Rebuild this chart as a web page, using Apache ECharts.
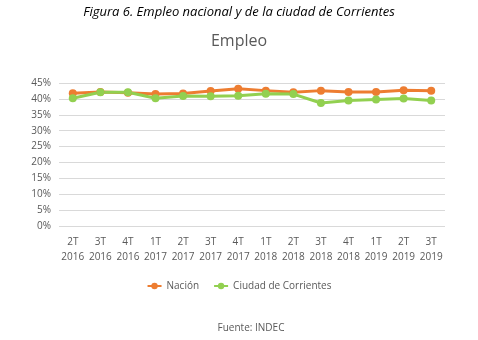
<!DOCTYPE html>
<html><head><meta charset="utf-8">
<script src="https://cdn.jsdelivr.net/npm/echarts@6/dist/echarts.min.js"></script>
<style>html,body{margin:0;padding:0;background:#fff}#c{width:478px;height:340px}</style>
</head><body><div id="c"></div>
<script>
const categories = ['2T\n2016','3T\n2016','4T\n2016','1T\n2017','2T\n2017','3T\n2017','4T\n2017','1T\n2018','2T\n2018','3T\n2018','4T\n2018','1T\n2019','2T\n2019','3T\n2019'];
const nacion = [41.8, 42.2, 41.9, 41.5, 41.7, 42.5, 43.2, 42.6, 42.1, 42.6, 42.2, 42.2, 42.7, 42.6];
const corrientes = [40.2, 42.1, 42.1, 40.2, 40.9, 40.8, 41.0, 41.6, 41.5, 38.7, 39.5, 39.8, 40.1, 39.5];
const yTicks = {min: 0, max: 45, interval: 5};

const chart = echarts.init(document.getElementById('c'));
const font = 'Open Sans, Noto Sans, sans-serif';
chart.setOption({
  animation: false,
  title: [
    {text: 'Figura 6. Empleo nacional y de la ciudad de Corrientes', left: 'center', top: 1,
     textStyle: {fontFamily: font, fontStyle: 'italic', fontWeight: 'normal', fontSize: 13, color: '#000'}},
    {text: 'Empleo', left: 'center', top: 28,
     textStyle: {fontFamily: font, fontWeight: 'normal', fontSize: 16, color: '#595959'}},
    {text: 'Fuente: INDEC', left: 246, top: 318, textAlign: 'center',
     textStyle: {fontFamily: font, fontWeight: 'normal', fontSize: 10, color: '#595959'}}
  ],
  legend: {
    top: 276, left: 'center', itemGap: 14, itemWidth: 14, itemHeight: 8,
    textStyle: {fontFamily: font, fontSize: 10, color: '#595959'},
    data: ['Nación', 'Ciudad de Corrientes']
  },
  grid: {left: 59, right: 33, top: 83, bottom: 114},
  xAxis: {
    type: 'category', data: categories, boundaryGap: true,
    axisLine: {show: false}, axisTick: {show: false},
    axisLabel: {fontFamily: font, fontSize: 10, color: '#595959', lineHeight: 15, margin: 9, interval: 0}
  },
  yAxis: {
    type: 'value', min: yTicks.min, max: yTicks.max, interval: yTicks.interval,
    axisLine: {show: false}, axisTick: {show: false},
    axisLabel: {fontFamily: font, fontSize: 10, color: '#595959', formatter: '{value}%', margin: 8},
    splitLine: {lineStyle: {color: '#d9d9d9', width: 1}}
  },
  series: [
    {name: 'Nación', type: 'line', data: nacion, symbol: 'circle', symbolSize: 8,
     itemStyle: {color: '#ED7D31'}, lineStyle: {color: '#ED7D31', width: 3}},
    {name: 'Ciudad de Corrientes', type: 'line', data: corrientes, symbol: 'circle', symbolSize: 8,
     itemStyle: {color: '#92D050'}, lineStyle: {color: '#92D050', width: 3}}
  ]
});
</script></body></html>
